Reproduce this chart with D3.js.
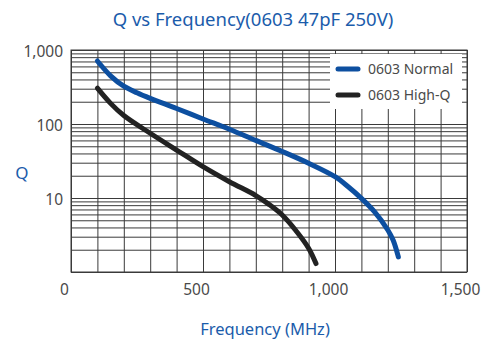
<!DOCTYPE html>
<html>
<head>
<meta charset="utf-8">
<script src="https://cdn.jsdelivr.net/npm/d3@7"></script>
<style>
  html, body { margin: 0; padding: 0; background: #fff; }
  svg { display: block; font-family: "Noto Sans", "Open Sans", sans-serif; }
</style>
</head>
<body>
<svg id="chart" width="490" height="341"></svg>
<script>
// ---- data ----
const freqNormal = [100, 150, 200, 250, 300, 400, 500, 600, 700, 800, 900, 1000, 1050, 1100, 1150, 1200, 1220, 1240];
const qNormal    = [710, 448, 324, 264, 222, 162, 117, 85, 60, 42.5, 29.5, 19.4, 14.2, 9.9, 6.5, 3.7, 2.7, 1.6];
const freqHighQ  = [100, 150, 200, 300, 400, 500, 600, 700, 750, 800, 850, 900, 928];
const qHighQ     = [305, 190, 130, 75, 44.5, 26.5, 16.6, 10.8, 8.2, 5.9, 3.7, 2.1, 1.3];
const seriesNames = ["0603 Normal", "0603 High-Q"];
const xTickValues = [0, 500, 1000, 1500];
const yTickValues = [10, 100, 1000];

// ---- layout ----
const svg = d3.select("#chart");
const pL = 71, pR = 467, pT = 50, pB = 272;
const x = d3.scaleLinear().domain([0, 1500]).range([pL, pR]);
const y = d3.scaleLog().domain([1, 1000]).range([pB, pT]);
const blue = "#0d4fa0", dark = "#222222", titleBlue = "#1b5cab", gridCol = "#3a3a3a", textCol = "#4a4a4a";

// title
svg.append("text").attr("x", 253).attr("y", 26).attr("text-anchor", "middle")
  .attr("font-size", 18.5).attr("fill", titleBlue).text("Q vs Frequency(0603 47pF 250V)");

// grid
const gridY = [];
[1, 10, 100].forEach(d => { for (let k = 1; k <= 9; k++) gridY.push(d * k); });
gridY.push(1000);
const gridX = d3.range(0, 1501, 100);

const gY = svg.append("g").attr("transform", `translate(${pL},0)`)
  .call(d3.axisLeft(y).tickValues(gridY).tickSize(-(pR - pL)).tickFormat(""));
gY.select(".domain").remove();
gY.selectAll("line").attr("stroke", gridCol).attr("stroke-width", 1);

const gX = svg.append("g").attr("transform", `translate(0,${pB})`)
  .call(d3.axisBottom(x).tickValues(gridX).tickSize(-(pB - pT)).tickFormat(""));
gX.select(".domain").remove();
gX.selectAll("line").attr("stroke", gridCol).attr("stroke-width", 1);

// frame
svg.append("rect").attr("x", pL).attr("y", pT).attr("width", pR - pL).attr("height", pB - pT)
  .attr("fill", "none").attr("stroke", gridCol).attr("stroke-width", 1);

// y labels
const yl = svg.append("g").attr("transform", `translate(${pL},0)`)
  .call(d3.axisLeft(y).tickValues(yTickValues).tickSize(0).tickPadding(8).tickFormat(d3.format(",")));
yl.select(".domain").remove();
yl.selectAll("text").attr("font-size", 15.5).attr("fill", textCol).attr("dy", "0.42em")
  .style("font-family", "'Noto Sans', sans-serif");

// x labels
const xl = svg.append("g").attr("transform", `translate(0,${pB})`)
  .call(d3.axisBottom(x).tickValues(xTickValues).tickSize(0).tickPadding(12).tickFormat(d3.format(",")));
xl.select(".domain").remove();
xl.selectAll("text").attr("font-size", 15.5).attr("fill", textCol).attr("dx", -7)
  .style("font-family", "'Noto Sans', sans-serif");

// axis titles
svg.append("text").attr("x", 22).attr("y", 179).attr("text-anchor", "middle")
  .attr("font-size", 17).attr("fill", titleBlue).text("Q");
svg.append("text").attr("x", 265).attr("y", 335).attr("text-anchor", "middle")
  .attr("font-size", 16.5).attr("fill", titleBlue).text("Frequency (MHz)");

// curves
const line = d3.line().x(d => x(d[0])).y(d => y(d[1])).curve(d3.curveCatmullRom.alpha(0.5));
const normalData = freqNormal.map((f, i) => [f, qNormal[i]]);
const highQData = freqHighQ.map((f, i) => [f, qHighQ[i]]);
svg.append("path").datum(highQData).attr("d", line).attr("fill", "none")
  .attr("stroke", dark).attr("stroke-width", 5).attr("stroke-linecap", "round");
svg.append("path").datum(normalData).attr("d", line).attr("fill", "none")
  .attr("stroke", blue).attr("stroke-width", 5).attr("stroke-linecap", "round");

// legend
const lg = svg.append("g");
lg.append("rect").attr("x", 330).attr("y", 54).attr("width", 132).attr("height", 55).attr("fill", "#fff");
[blue, dark].forEach((c, i) => {
  const yy = 69 + i * 26;
  lg.append("line").attr("x1", 338).attr("x2", 358).attr("y1", yy).attr("y2", yy)
    .attr("stroke", c).attr("stroke-width", 5).attr("stroke-linecap", "round");
  lg.append("text").attr("x", 368).attr("y", yy).attr("dy", "0.36em")
    .attr("font-size", 14).attr("fill", textCol).text(seriesNames[i]);
});
</script>
</body>
</html>
